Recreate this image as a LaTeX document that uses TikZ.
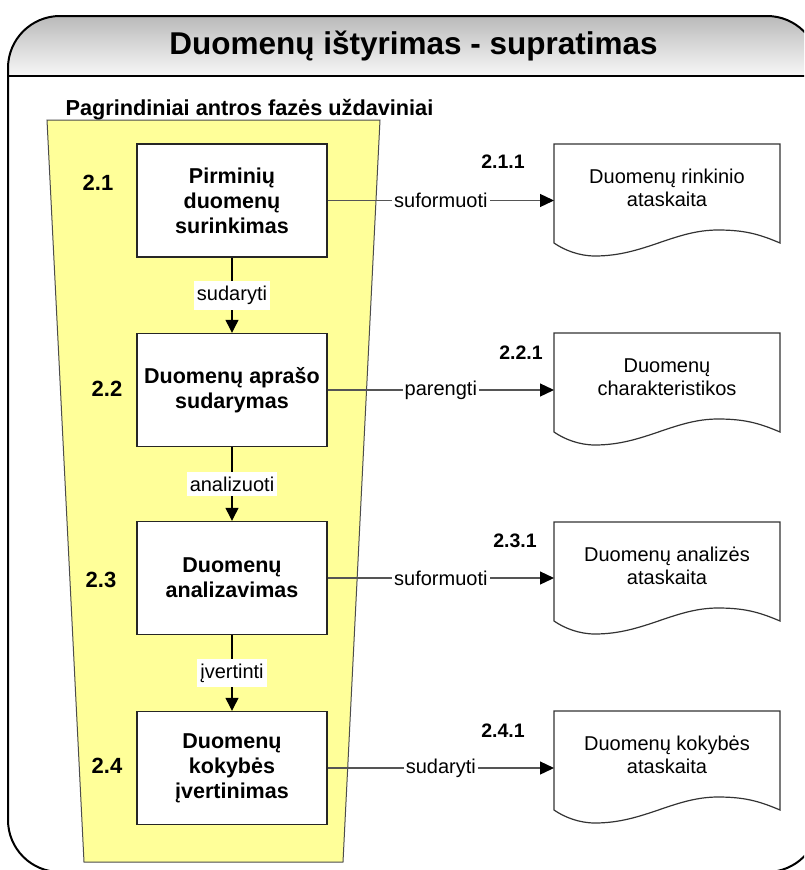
\documentclass[tikz,border=0pt]{standalone}
\usepackage{fontspec}
\setmainfont{Liberation Sans}
\usetikzlibrary{arrows.meta}

\definecolor{panelyellow}{RGB}{255,255,153}
\definecolor{linkgray}{RGB}{85,85,85}

% one report document: #1 name, #2 top edge, #3 text
\newcommand{\reportdoc}[3]{%
  \begin{scope}[shift={(554,#2)}]
    \path[docshape] (0,99) -- (0,0) -- (226,0) -- (226,99)
      .. controls (205,90) and (190,86) .. (164,86)
      .. controls (120,86) and (90,112) .. (41,112)
      .. controls (25,112) and (10,106) .. (0,99) -- cycle;
    \node[inner sep=0pt,minimum width=226pt,minimum height=99pt,anchor=north west] (#1) at (0,0) {};
    \node[doctext] (#1text) at (113,44) {#3};
  \end{scope}}

\begin{document}
\begin{tikzpicture}[x=1pt,y=-1pt,
  frame/.style={draw=black,line width=2pt,rounded corners=52pt},
  taskbox/.style={draw=black!85,fill=white,line width=1.4pt,minimum width=190pt,
    minimum height=113pt,align=center,inner sep=0pt,
    font=\fontsize{21.5}{25}\selectfont\bfseries},
  stepnum/.style={font=\fontsize{22}{25}\selectfont\bfseries},
  docnum/.style={font=\fontsize{19.5}{23}\selectfont\bfseries},
  doctext/.style={align=center,font=\fontsize{20}{23}\selectfont},
  docshape/.style={draw=black!80,line width=1.2pt,fill=white},
  flow/.style={draw=black,line width=1.2pt,-{Triangle[length=13pt,width=13pt]}},
  outflow/.style={draw=linkgray,line width=1.3pt,-{Triangle[length=14pt,width=13pt,color=black]}},
  flowlabel/.style={fill=white,inner xsep=3pt,inner ysep=5pt,font=\fontsize{20}{23}\selectfont},
  outlabel/.style={fill=white,inner xsep=2pt,inner ysep=2pt,font=\fontsize{20}{23}\selectfont}
]
\useasboundingbox (0,0) rectangle (804,870);
\clip (0,0) rectangle (804,870);
\fill[white] (0,0) rectangle (804,870);

% title bar with grey gradient inside the rounded frame
\begin{scope}
  \clip[rounded corners=52pt] (8,16) rectangle (819,872);
  \shade[top color=black!27,bottom color=black!3] (8,16) rectangle (819,76);
\end{scope}
\draw[frame] (8,16) rectangle (819,872);
\draw[line width=2pt] (8,76) -- (819,76);
\node[font=\fontsize{31.5}{36}\selectfont\bfseries,anchor=base] (title) at (413.5,54)
  {Duomenų ištyrimas - supratimas};

% phase panel
\node[font=\fontsize{21.7}{25}\selectfont\bfseries,anchor=base west] (phase) at (62,115)
  {Pagrindiniai antros fazės uždaviniai};
\draw[fill=panelyellow,draw=black!70,line width=1pt]
  (47,120) -- (380,120) -- (343,862) -- (84,862) -- cycle;

% tasks
\node[taskbox] (b1) at (232,200.5) {Pirminių\\duomenų\\surinkimas};
\node[taskbox] (b2) at (232,390) {Duomenų aprašo\\sudarymas};
\node[taskbox] (b3) at (232,578) {Duomenų\\analizavimas};
\node[taskbox] (b4) at (232,768) {Duomenų\\kokybės\\įvertinimas};

\node[stepnum] (n1) at (98,183) {2.1};
\node[stepnum] (n2) at (107,389) {2.2};
\node[stepnum] (n3) at (101,580) {2.3};
\node[stepnum] (n4) at (107,766) {2.4};

\draw[flow] (b1) -- node[flowlabel] {sudaryti} (b2);
\draw[flow] (b2) -- node[flowlabel] {analizuoti} (b3);
\draw[flow] (b3) -- node[flowlabel] {įvertinti} (b4);

% resulting reports
\reportdoc{d1}{144}{Duomenų rinkinio\\ataskaita}
\reportdoc{d2}{333}{Duomenų\\charakteristikos}
\reportdoc{d3}{522}{Duomenų analizės\\ataskaita}
\reportdoc{d4}{711}{Duomenų kokybės\\ataskaita}

\node[docnum] (r1) at (503,162) {2.1.1};
\node[docnum] (r2) at (521,353) {2.2.1};
\node[docnum] (r3) at (515,541) {2.3.1};
\node[docnum] (r4) at (503,731) {2.4.1};

\draw[outflow] (b1.east) -- node[outlabel] {suformuoti} (b1.east -| d1.west);
\draw[outflow] (b2.east) -- node[outlabel] {parengti} (b2.east -| d2.west);
\draw[outflow] (b3.east) -- node[outlabel] {suformuoti} (b3.east -| d3.west);
\draw[outflow] (b4.east) -- node[outlabel] {sudaryti} (b4.east -| d4.west);
\end{tikzpicture}
\end{document}
